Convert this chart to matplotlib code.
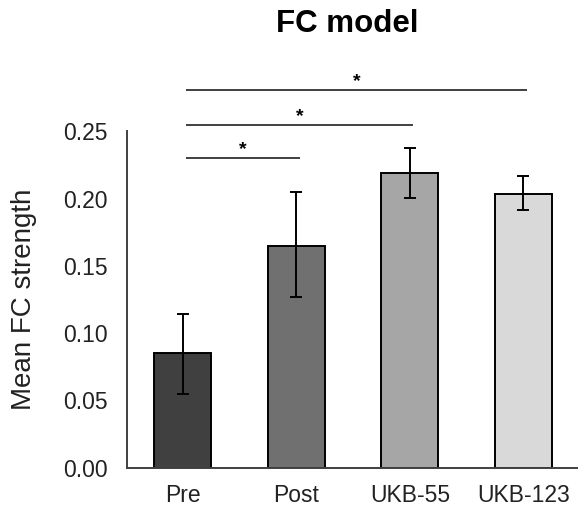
import matplotlib.pyplot as plt

plt.rcParams['font.family'] = ['Liberation Sans', 'DejaVu Sans']

groups = ['Pre', 'Post', 'UKB-55', 'UKB-123']
means = [0.085, 0.165, 0.219, 0.203]
err_lo = [0.0545, 0.127, 0.2005, 0.1915]
err_hi = [0.114, 0.2045, 0.2375, 0.2165]
colors = ['#404040', '#707070', '#a6a6a6', '#d9d9d9']

# significance brackets: (from, to, height)
sig = [(0, 1, 0.2298), (0, 2, 0.2543), (0, 3, 0.2807)]

fig = plt.figure(figsize=(5.78, 5.07), dpi=100)
ax = fig.add_axes([0.2197, 0.0779, 0.7803, 0.8038])

x = list(range(len(groups)))
yerr = [[m - l for m, l in zip(means, err_lo)], [h - m for m, h in zip(means, err_hi)]]
ax.bar(x, means, 0.5, color=colors, edgecolor='black', linewidth=1.4, zorder=2)
ax.errorbar(x, means, yerr=yerr, fmt='none', ecolor='black', elinewidth=1.4,
            capsize=4, capthick=1.4, zorder=3)

for a, b, h in sig:
    ax.plot([a + 0.03, b + 0.03], [h, h], color='#404040', lw=1.4, solid_capstyle='butt')
    ax.text((a + b) / 2 + 0.03, h + 0.0065, '*', ha='center', va='center',
            fontsize=14, fontweight='bold')

ax.set_xlim(-0.49, 3.48)
ax.set_ylim(0, 0.303)
ax.set_yticks([0, 0.05, 0.10, 0.15, 0.20, 0.25])
ax.set_yticklabels(['0.00', '0.05', '0.10', '0.15', '0.20', '0.25'])
ax.set_xticks(x)
ax.set_xticklabels(groups)
ax.tick_params(axis='both', length=0, labelsize=16.5, colors='#222222')
ax.tick_params(axis='y', pad=14)
ax.tick_params(axis='x', pad=12)

for s in ['top', 'right']:
    ax.spines[s].set_visible(False)
ax.spines['left'].set_bounds(0, 0.25)
for s in ['left', 'bottom']:
    ax.spines[s].set_color('#404040')
    ax.spines[s].set_linewidth(1.4)

ax.set_ylabel('Mean FC strength', fontsize=20, color='#222222')
ax.yaxis.set_label_coords(-0.2, 0.125 / 0.303)
fig.text(0.6, 0.953, 'FC model', ha='center', va='center', fontsize=22.5, fontweight='bold')

fig.savefig('out.png', dpi=100)
